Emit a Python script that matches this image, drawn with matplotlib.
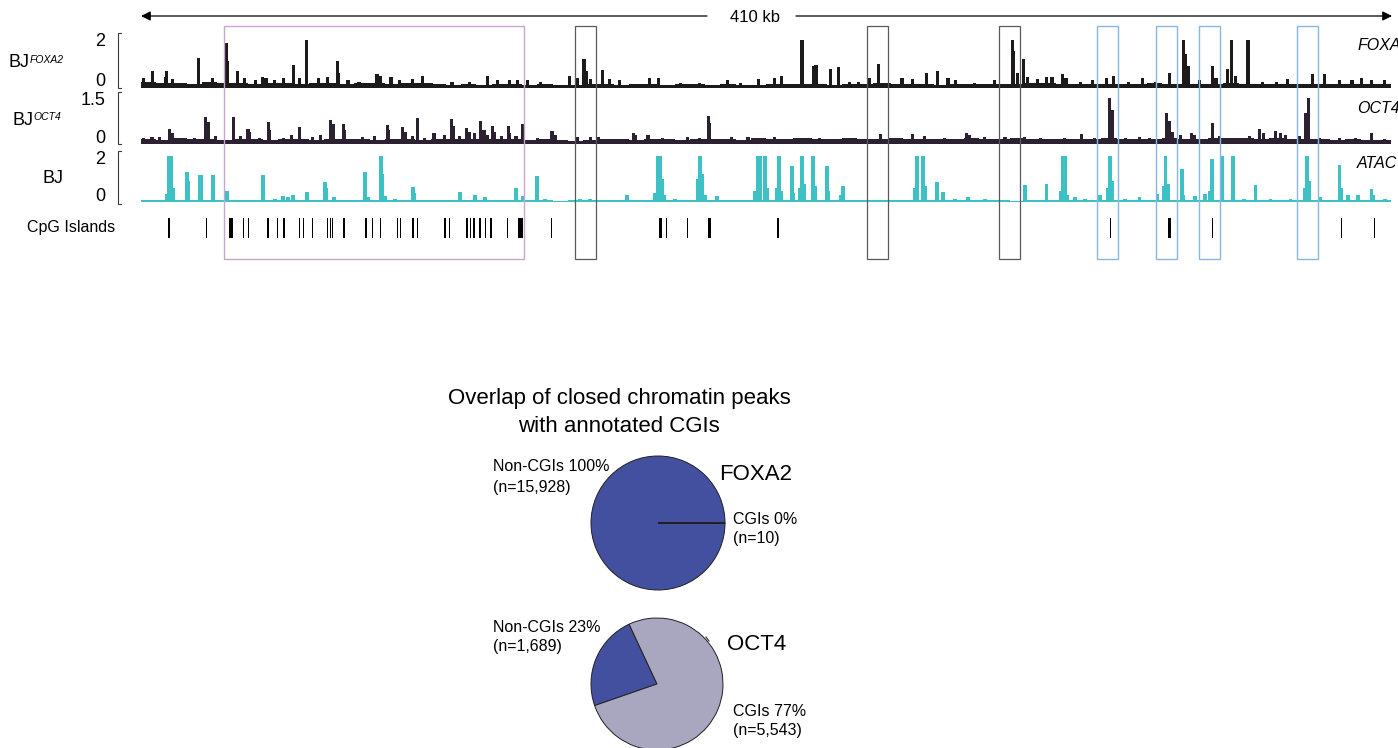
import numpy as np
import matplotlib
matplotlib.use("Agg")
import matplotlib.pyplot as plt
from matplotlib.patches import Rectangle

plt.rcParams['font.family'] = ['Liberation Sans', 'DejaVu Sans']

# ---------------------------------------------------------------- data
REGION_KB = 410          # span of the browser window
BG_BIN_KB = 5            # width of one background bin

# FOXA2 track: background level per 5 kb bin, then peaks (position kb, signal)
foxa2_bg = [0.22, 0.18, 0.20, 0.15, 0.22, 0.17, 0.20, 0.15, 0.18, 0.20,
            0.15, 0.18, 0.20, 0.16, 0.20, 0.18, 0.14, 0.20, 0.17, 0.15,
            0.12, 0.14, 0.12, 0.15, 0.13, 0.12, 0.14, 0.12, 0.10, 0.14,
            0.16, 0.12, 0.14, 0.16, 0.12, 0.15, 0.13, 0.12, 0.14, 0.12,
            0.10, 0.14, 0.15, 0.16, 0.15, 0.12, 0.14, 0.15, 0.18, 0.14,
            0.16, 0.14, 0.12, 0.14, 0.15, 0.13, 0.14, 0.16, 0.20, 0.18,
            0.16, 0.15, 0.14, 0.16, 0.15, 0.14, 0.18, 0.16, 0.15, 0.14,
            0.16, 0.18, 0.15, 0.14, 0.15, 0.16, 0.14, 0.15, 0.16, 0.14,
            0.15, 0.14]
foxa2_peak_kb = [0.7, 3.9, 7.9, 8.5, 10.2, 19.0, 23.3, 27.9, 28.5, 31.5,
                 34.1, 37.7, 40.0, 41.0, 43.9, 46.6, 49.9, 52.1, 54.4, 58.1,
                 61.3, 64.3, 64.9, 67.9, 71.5, 77.4, 78.7, 82.0, 84.9, 89.2,
                 92.2, 95.4, 102.0, 107.9, 113.8, 116.8, 121.0, 123.6, 126.9, 130.9,
                 140.7, 143.3, 145.3, 146.0, 147.3, 151.5, 153.8, 157.1, 166.9, 169.6,
                 176.8, 183.3, 192.5, 196.5, 202.4, 207.9, 210.2, 216.8, 220.7, 221.4,
                 226.3, 228.9, 232.5, 235.2, 239.1, 242.0, 245.6, 249.6, 252.9, 257.5,
                 261.1, 264.7, 267.3, 273.5, 280.1, 285.7, 286.3, 287.6, 289.6, 290.9,
                 294.2, 297.1, 298.8, 302.4, 303.4, 308.0, 312.2, 316.8, 319.1, 323.8,
                 328.6, 332.6, 337.2, 341.8, 342.7, 343.7, 347.3, 351.6, 352.6, 356.5,
                 357.8, 359.1, 363.1, 367.7, 372.3, 376.2, 384.1, 388.3, 393.2, 397.2,
                 400.4, 403.7, 408.0]
foxa2_peak_val = [0.40, 0.68, 0.45, 0.68, 0.35, 1.23, 0.40, 1.87, 1.10, 0.68,
                  0.40, 0.30, 0.45, 0.40, 0.30, 0.40, 0.94, 0.40, 2.00, 0.40,
                  0.45, 1.12, 0.60, 0.30, 0.25, 0.55, 0.50, 0.45, 0.30, 0.35,
                  0.50, 0.20, 0.25, 0.25, 0.48, 0.30, 0.30, 0.30, 0.30, 0.25,
                  0.48, 0.40, 1.22, 0.70, 0.35, 0.72, 0.35, 0.30, 0.38, 0.38,
                  0.20, 0.20, 0.30, 0.20, 0.35, 0.38, 0.50, 2.00, 0.90, 0.95,
                  0.77, 0.87, 0.25, 0.25, 0.38, 1.00, 0.20, 0.38, 0.35, 0.62,
                  0.68, 0.38, 0.30, 0.20, 0.30, 2.00, 1.55, 0.60, 1.22, 0.45,
                  0.35, 0.45, 0.45, 0.55, 0.40, 0.25, 0.30, 0.38, 0.48, 0.25,
                  0.38, 0.25, 0.62, 2.00, 1.40, 0.90, 0.30, 0.90, 0.40, 0.80,
                  2.00, 0.50, 2.00, 0.25, 0.25, 0.35, 0.55, 0.55, 0.30, 0.30,
                  0.38, 0.30, 0.30]

# OCT4 track
oct4_bg = [0.16, 0.14, 0.18, 0.15, 0.16, 0.14, 0.17, 0.15, 0.14, 0.16,
           0.15, 0.14, 0.16, 0.15, 0.17, 0.14, 0.16, 0.15, 0.14, 0.16,
           0.15, 0.16, 0.17, 0.15, 0.16, 0.14, 0.15, 0.12, 0.10, 0.14,
           0.15, 0.16, 0.14, 0.15, 0.16, 0.14, 0.15, 0.16, 0.15, 0.14,
           0.18, 0.17, 0.16, 0.18, 0.17, 0.16, 0.18, 0.17, 0.16, 0.18,
           0.17, 0.16, 0.15, 0.16, 0.18, 0.17, 0.16, 0.18, 0.16, 0.17,
           0.16, 0.15, 0.16, 0.18, 0.16, 0.17, 0.16, 0.18, 0.17, 0.16,
           0.18, 0.20, 0.18, 0.17, 0.18, 0.16, 0.17, 0.15, 0.14, 0.15,
           0.14, 0.13]
oct4_peak_kb = [0.7, 3.6, 6.2, 9.5, 10.2, 14.4, 17.7, 21.3, 22.0, 24.3,
                30.2, 32.5, 35.1, 35.7, 39.0, 41.7, 42.3, 46.6, 49.5, 52.1,
                56.1, 59.0, 62.3, 63.0, 66.3, 66.9, 72.5, 76.7, 80.7, 81.3,
                85.9, 86.6, 88.9, 90.8, 93.1, 96.1, 99.7, 101.7, 102.4, 104.6,
                106.9, 107.6, 109.5, 111.5, 112.5, 113.8, 115.4, 116.1, 118.1, 120.4,
                121.0, 123.0, 125.0, 125.6, 129.9, 134.8, 135.8, 143.3, 147.3, 149.9,
                153.8, 161.4, 162.3, 166.3, 170.9, 179.4, 183.3, 186.0, 186.6, 193.8,
                199.1, 207.9, 214.5, 222.7, 232.5, 242.4, 247.3, 253.2, 257.1, 263.7,
                270.9, 271.9, 276.8, 283.4, 289.9, 294.9, 303.0, 308.6, 312.9, 317.8,
                318.5, 322.8, 327.6, 330.9, 336.5, 337.2, 338.2, 340.8, 344.7, 345.7,
                351.3, 353.9, 358.8, 363.7, 367.0, 368.3, 372.0, 373.6, 375.3, 380.1,
                382.1, 382.8, 386.7, 393.2, 398.2, 403.7, 408.0]
oct4_peak_val = [0.19, 0.22, 0.24, 0.49, 0.35, 0.18, 0.20, 0.89, 0.73, 0.25,
                 0.89, 0.25, 0.49, 0.40, 0.20, 0.73, 0.45, 0.20, 0.30, 0.54,
                 0.22, 0.30, 0.78, 0.65, 0.65, 0.45, 0.22, 0.25, 0.62, 0.45,
                 0.54, 0.40, 0.25, 0.84, 0.20, 0.35, 0.30, 0.81, 0.60, 0.25,
                 0.51, 0.40, 0.35, 0.76, 0.45, 0.30, 0.60, 0.40, 0.25, 0.60,
                 0.35, 0.25, 0.65, 0.50, 0.20, 0.43, 0.30, 0.24, 0.24, 0.24,
                 0.15, 0.35, 0.30, 0.30, 0.20, 0.24, 0.20, 0.92, 0.68, 0.24,
                 0.22, 0.24, 0.20, 0.20, 0.20, 0.33, 0.20, 0.33, 0.25, 0.20,
                 0.35, 0.30, 0.22, 0.24, 0.22, 0.20, 0.20, 0.34, 0.20, 1.49,
                 1.10, 0.20, 0.22, 0.20, 1.00, 0.76, 0.40, 0.30, 0.35, 0.30,
                 0.67, 0.25, 0.20, 0.25, 0.49, 0.35, 0.41, 0.35, 0.30, 0.25,
                 1.00, 1.49, 0.20, 0.18, 0.18, 0.35, 0.15]

# ATAC track (signal capped at 2)
atac_bg = [0.07, 0.08, 0.07, 0.09, 0.08, 0.07, 0.08, 0.09, 0.07, 0.08,
           0.09, 0.08, 0.07, 0.08, 0.09, 0.08, 0.07, 0.08, 0.07, 0.08,
           0.07, 0.08, 0.09, 0.08, 0.07, 0.08, 0.07, 0.06, 0.07, 0.08,
           0.07, 0.08, 0.09, 0.08, 0.10, 0.09, 0.08, 0.10, 0.09, 0.08,
           0.09, 0.10, 0.09, 0.08, 0.09, 0.10, 0.08, 0.07, 0.07, 0.08,
           0.08, 0.07, 0.08, 0.09, 0.07, 0.08, 0.07, 0.06, 0.07, 0.08,
           0.09, 0.10, 0.09, 0.08, 0.10, 0.09, 0.08, 0.09, 0.10, 0.09,
           0.08, 0.09, 0.08, 0.07, 0.08, 0.09, 0.10, 0.09, 0.08, 0.09,
           0.08, 0.08]
atac_peak_kb = [8.5, 9.0, 9.8, 10.5, 15.1, 15.6, 19.4, 19.9, 23.6, 28.2,
                40.0, 43.9, 46.6, 48.2, 49.9, 54.4, 60.3, 60.8, 63.3, 73.5,
                74.4, 78.7, 79.2, 80.0, 83.3, 89.2, 89.7, 104.6, 109.5, 112.8,
                123.0, 125.3, 129.9, 132.5, 144.0, 147.3, 159.4, 168.5, 169.5, 170.2,
                170.9, 171.8, 175.1, 182.6, 183.3, 184.0, 185.0, 188.9, 201.4, 202.4,
                203.0, 204.7, 205.3, 208.6, 209.3, 210.0, 213.5, 214.0, 216.1, 216.8,
                217.5, 220.4, 221.1, 225.0, 225.6, 229.6, 230.3, 253.8, 254.5, 256.5,
                257.2, 261.1, 263.0, 267.0, 271.2, 276.8, 289.9, 297.1, 301.7, 302.4,
                303.1, 303.8, 306.3, 309.6, 314.5, 317.1, 317.8, 318.5, 322.8, 327.6,
                333.5, 335.4, 336.1, 336.8, 341.5, 342.0, 345.7, 349.0, 350.6, 351.3,
                354.6, 358.2, 361.8, 365.6, 370.5, 377.0, 381.8, 382.5, 383.2, 386.7,
                393.2, 393.7, 395.9, 399.2, 403.7, 404.2, 408.0]
atac_peak_val = [0.35, 2.00, 2.00, 0.60, 1.32, 0.90, 1.18, 1.18, 1.18, 0.50,
                 1.18, 0.15, 0.25, 0.20, 0.30, 0.45, 0.88, 0.60, 0.20, 1.32,
                 0.20, 2.00, 1.20, 0.25, 0.15, 0.66, 0.40, 0.45, 0.30, 0.20,
                 0.62, 0.25, 1.14, 0.15, 0.15, 0.15, 0.30, 0.40, 2.00, 2.00,
                 1.00, 0.30, 0.15, 1.00, 2.00, 1.20, 0.30, 0.25, 0.50, 2.00,
                 2.00, 2.00, 0.60, 0.60, 2.00, 0.50, 1.57, 0.40, 0.60, 2.00,
                 0.80, 2.00, 0.70, 1.57, 0.50, 0.30, 0.70, 0.60, 2.00, 2.00,
                 0.70, 0.88, 0.45, 0.15, 0.20, 0.15, 0.75, 0.80, 0.50, 2.00,
                 2.00, 0.30, 0.20, 0.15, 0.30, 0.60, 2.00, 0.90, 0.15, 0.20,
                 0.35, 0.70, 2.00, 0.80, 1.43, 0.30, 0.25, 0.35, 0.50, 1.87,
                 2.00, 2.00, 0.15, 0.75, 0.15, 0.15, 0.60, 2.00, 0.90, 0.20,
                 1.62, 0.60, 0.30, 0.30, 0.55, 0.30, 0.15]

# CpG islands (start kb, length kb)
cpg_start = [8.9, 21.2, 29.0, 29.6, 33.4, 35.1, 41.4, 44.6, 46.7, 51.7,
             53.1, 56.0, 60.9, 61.9, 62.6, 66.3, 73.6, 75.8, 78.3, 83.9,
             84.9, 89.0, 90.5, 99.5, 101.0, 106.6, 108.0, 109.0, 111.0, 112.7,
             114.6, 120.0, 123.6, 134.4, 169.8, 172.2, 179.0, 185.9, 208.7, 317.8,
             336.7, 351.2, 393.5, 404.5]
cpg_len = [0.5, 0.5, 0.5, 0.5, 0.4, 0.4, 0.5, 0.4, 0.4, 0.5,
           0.4, 0.5, 0.4, 0.4, 0.5, 0.5, 0.4, 0.4, 0.5, 0.5,
           0.4, 0.5, 0.5, 0.5, 0.4, 0.5, 0.4, 0.4, 0.4, 0.4,
           0.4, 0.4, 1.8, 0.4, 1.2, 0.4, 0.4, 1.1, 0.4, 0.5,
           1.0, 0.4, 0.4, 0.4]

# highlighted windows (start kb, width kb)
purple_box = (27.3, 98.4)
gray_boxes_start = [142.4, 238.1, 281.4]
blue_boxes_start = [313.5, 332.9, 347.0, 379.1]
box_width_kb = 6.9

# peak overlap with annotated CGIs
pie_labels = ["Non-CGIs", "CGIs"]
foxa2_counts = [15928, 10]
oct4_counts = [1689, 5543]

# ---------------------------------------------------------------- layout
W, H = 1398, 748
fig = plt.figure(figsize=(W / 100, H / 100), dpi=100)


def px_axes(x0, y0, x1, y1):
    """Axes placed by pixel box (y measured from the top)."""
    return fig.add_axes([x0 / W, 1 - y1 / H, (x1 - x0) / W, (y1 - y0) / H])


TX0, TX1 = 141, 1391
FOXA2_C = '#1d1a1c'
OCT4_C = '#2b2131'
ATAC_C = '#3dc1c4'
PIE_BLUE = '#4350a0'
PIE_GRAY = '#a9a7c0'

# overlay in pixel units for labels, brackets and the scale bar
ov = fig.add_axes([0, 0, 1, 1])
ov.set_xlim(0, W)
ov.set_ylim(H, 0)
ov.axis('off')


def draw_track(y_top, y_base, ymax, bg, peak_kb, peak_val, color, peak_w):
    ax = px_axes(TX0, y_top, TX1, y_base)
    edges = np.arange(len(bg) + 1) * BG_BIN_KB
    edges[-1] = REGION_KB
    ax.stairs(bg, edges, fill=True, color=color, linewidth=0)
    ax.bar(peak_kb, peak_val, width=peak_w, color=color, linewidth=0)
    ax.set_xlim(0, REGION_KB)
    ax.set_ylim(0, ymax)
    ax.axis('off')
    return ax


draw_track(40, 87.5, 2.0, foxa2_bg, foxa2_peak_kb, foxa2_peak_val, FOXA2_C, 1.0)
draw_track(98, 144, 1.5, oct4_bg, oct4_peak_kb, oct4_peak_val, OCT4_C, 1.0)
draw_track(156, 202, 2.0, atac_bg, atac_peak_kb, atac_peak_val, ATAC_C, 1.1)

# CpG island ticks
cax = px_axes(TX0, 218, TX1, 238)
cax.bar(cpg_start, 1, width=cpg_len, align='edge', color='black', linewidth=0)
cax.set_xlim(0, REGION_KB)
cax.set_ylim(0, 1)
cax.axis('off')

# highlighted windows
bax = px_axes(TX0, 26, TX1, 259)
bax.set_xlim(0, REGION_KB)
bax.set_ylim(0, 1)
bax.axis('off')
bax.add_patch(Rectangle((purple_box[0], 0), purple_box[1], 1, fill=False,
                        edgecolor='#c9a4cd', linewidth=1.0, clip_on=False))
for s in gray_boxes_start:
    bax.add_patch(Rectangle((s, 0), box_width_kb, 1, fill=False,
                            edgecolor='#5a5a5a', linewidth=0.9, clip_on=False))
for s in blue_boxes_start:
    bax.add_patch(Rectangle((s, 0), box_width_kb, 1, fill=False,
                            edgecolor='#88b7e3', linewidth=1.0, clip_on=False))

# scale bar
arrow_kw = dict(arrowstyle='-|>', color='black', lw=0.9, mutation_scale=14,
                shrinkA=0, shrinkB=0)
ov.annotate('', xy=(TX0, 16), xytext=(707, 16), arrowprops=arrow_kw)
ov.annotate('', xy=(TX1 + 1, 16), xytext=(796, 16), arrowprops=arrow_kw)
ov.text(755, 17, f"{REGION_KB} kb", ha='center', va='center', fontsize=12)

# y-range brackets and values
for top, bot, hi, lo, y_hi, y_lo in [(33, 88, "2", "0", 41, 81),
                                     (92, 144, "1.5", "0", 100, 138),
                                     (151, 204, "2", "0", 159, 196)]:
    ov.plot([121, 118, 118, 121], [top, top, bot, bot], color='#3a3a3a',
            lw=0.8, solid_joinstyle='miter')
    ov.text(105, y_hi, hi, ha='right', va='center', fontsize=13)
    ov.text(105, y_lo, lo, ha='right', va='center', fontsize=13)

# track names on the left
ov.text(8, 62, "BJ", ha='left', va='center', fontsize=13)
ov.text(30, 55, "FOXA2", ha='left', va='top', fontsize=7.5, style='italic')
ov.text(13, 120, "BJ", ha='left', va='center', fontsize=13)
ov.text(33.5, 112, "OCT4", ha='left', va='top', fontsize=7.5, style='italic')
ov.text(42, 178, "BJ", ha='left', va='center', fontsize=13)
ov.text(27, 227, "CpG Islands", ha='left', va='center', fontsize=11.5)

# track names on the right edge
for name, y in [("FOXA2", 45.5), ("OCT4", 108), ("ATAC", 163.5)]:
    ov.text(1357, y, name, ha='left', va='center', fontsize=11.5,
            style='italic', clip_on=False)

# ---------------------------------------------------------------- pies
ov.text(619, 398, "Overlap of closed chromatin peaks", ha='center',
        va='center', fontsize=16)
ov.text(619, 426, "with annotated CGIs", ha='center', va='center', fontsize=16)


def draw_pie(cx, cy, r, counts, start):
    ax = px_axes(cx - r, cy - r, cx + r, cy + r)
    ax.pie(counts, colors=[PIE_BLUE, PIE_GRAY], startangle=start,
           counterclock=True,
           wedgeprops=dict(edgecolor='#202020', linewidth=0.7))
    ax.set_xlim(-1, 1)
    ax.set_ylim(-1, 1)
    ax.axis('off')
    return ax


def pct(counts, i):
    return round(100 * counts[i] / sum(counts))


draw_pie(658, 523, 67, foxa2_counts, 0)
draw_pie(657, 684, 66, oct4_counts, 115)

lab_fs = 11.5
ov.text(493, 466, f"{pie_labels[0]} {pct(foxa2_counts, 0)}%", va='center', fontsize=lab_fs)
ov.text(493, 487, f"(n={foxa2_counts[0]:,})", va='center', fontsize=lab_fs)
ov.text(733, 520, f"{pie_labels[1]} {pct(foxa2_counts, 1)}%", va='center', fontsize=lab_fs)
ov.text(733, 539, f"(n={foxa2_counts[1]:,})", va='center', fontsize=lab_fs)
ov.text(719, 474, "FOXA2", va='center', fontsize=16)

ov.text(493, 627, f"{pie_labels[0]} {pct(oct4_counts, 0)}%", va='center', fontsize=lab_fs)
ov.text(493, 647, f"(n={oct4_counts[0]:,})", va='center', fontsize=lab_fs)
ov.text(733, 712, f"{pie_labels[1]} {pct(oct4_counts, 1)}%", va='center', fontsize=lab_fs)
ov.text(733, 731, f"(n={oct4_counts[1]:,})", va='center', fontsize=lab_fs)
ov.text(727, 645, "OCT4", va='center', fontsize=16)
ov.plot([706, 709], [637, 641], color='#303030', lw=0.8)

fig.savefig("out.png", dpi=100)
